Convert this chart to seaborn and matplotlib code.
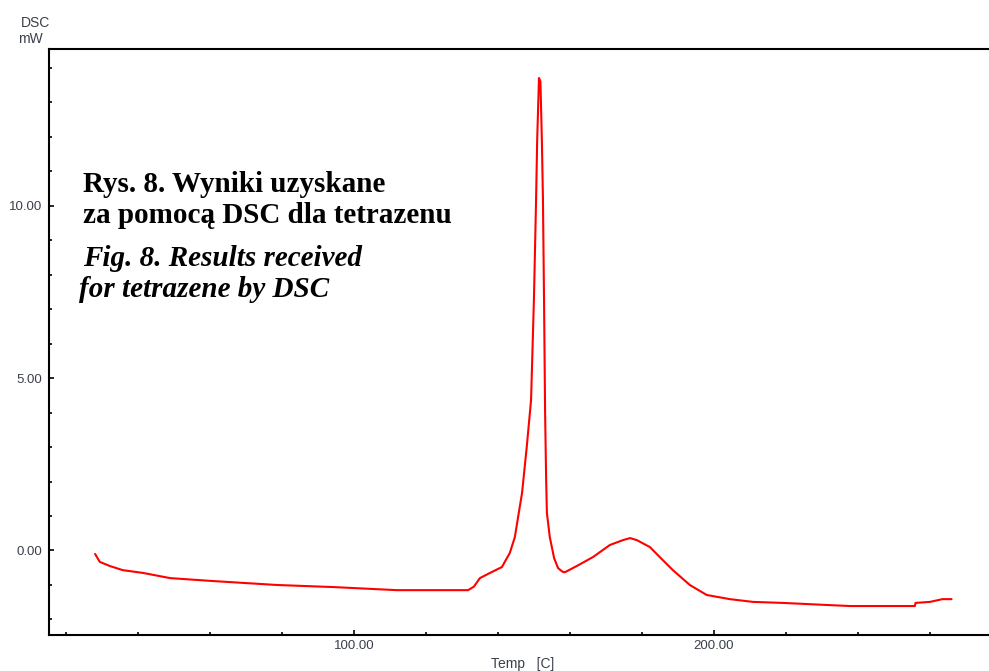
import matplotlib
matplotlib.use("Agg")
import matplotlib.pyplot as plt
from matplotlib.ticker import MultipleLocator, FixedLocator, FixedFormatter
import seaborn as sns
import pandas as pd

# ---- data ----
temp = [28.1, 29.4, 32.2, 35.8, 41.4, 48.9, 60.0, 78.6, 94.2, 112.0, 131.7,
        133.3, 135.0, 137.8, 141.1, 143.3, 144.7, 145.6, 146.7, 148.0, 149.2, 150.0,
        150.6, 150.9, 151.4, 151.8, 152.2, 152.5, 152.8, 153.1, 153.4, 153.6,
        154.4, 155.6, 156.7, 158.0, 158.6, 161.9, 166.4, 171.1, 174.7, 176.7,
        178.6, 182.2, 185.8, 188.6, 193.3, 198.0, 204.4, 210.8, 219.2, 231.4,
        237.8, 255.8, 256.0, 260.0, 263.5, 266.0]
dsc = [-0.10, -0.33, -0.45, -0.57, -0.65, -0.80, -0.88, -1.00, -1.06, -1.15, -1.15,
       -1.05, -0.80, -0.65, -0.48, -0.07, 0.39, 0.97, 1.67, 3.00, 4.36, 7.30,
       10.20, 11.90, 13.70, 13.60, 11.90, 10.20, 7.30, 4.00, 2.00, 1.09,
       0.39, -0.22, -0.51, -0.62, -0.63, -0.45, -0.19, 0.16, 0.30, 0.36,
       0.30, 0.10, -0.28, -0.57, -1.00, -1.29, -1.41, -1.49, -1.52, -1.58,
       -1.61, -1.61, -1.52, -1.49, -1.41, -1.41]

x_major = [100, 200]
x_major_labels = ["100.00", "200.00"]
y_major = [0, 5, 10]
y_major_labels = ["0.00", "5.00", "10.00"]

title_pl = ["Rys. 8. Wyniki uzyskane", "za pomocą DSC dla tetrazenu"]
title_en = ["Fig. 8. Results received", "for tetrazene by DSC"]

df = pd.DataFrame({"Temp": temp, "DSC": dsc})

sns.set_theme(style="white")
plt.rcParams["font.family"] = ["Liberation Sans", "DejaVu Sans"]

W, H = 989, 671
fig = plt.figure(figsize=(W / 100, H / 100), dpi=100)
L, R, T, B = 49, 989, 49, 635
ax = fig.add_axes([L / W, 1 - B / H, (R - L) / W, (B - T) / H])

sns.lineplot(data=df, x="Temp", y="DSC", ax=ax, color="#ff0000",
             linewidth=1.5, sort=False, estimator=None)

ax.set_xlim(15.3, 276.4)
ax.set_ylim(-2.45, 14.54)

for s in ["left", "bottom", "top"]:
    ax.spines[s].set_visible(True)
    ax.spines[s].set_color("black")
    ax.spines[s].set_linewidth(1.5)
ax.spines["right"].set_visible(False)

ax.xaxis.set_major_locator(FixedLocator(x_major))
ax.xaxis.set_major_formatter(FixedFormatter(x_major_labels))
ax.xaxis.set_minor_locator(MultipleLocator(20))
ax.yaxis.set_major_locator(FixedLocator(y_major))
ax.yaxis.set_major_formatter(FixedFormatter(y_major_labels))
ax.yaxis.set_minor_locator(MultipleLocator(1))

tick_color = "#3a3f4a"
ax.tick_params(which="both", direction="in", color="black", width=1.2,
               labelsize=9.5, labelcolor=tick_color)
ax.tick_params(which="major", length=3.6)
ax.tick_params(which="minor", length=2.2)
ax.tick_params(axis="x", which="both", bottom=True, top=False, pad=3.5)
ax.tick_params(axis="y", which="both", left=True, right=False, pad=5)
ax.set_xlabel("")
ax.set_ylabel("")
ax.grid(False)

fig.text(523 / W, 1 - 664 / H, "Temp   [C]", ha="center", va="center",
         fontsize=10, color=tick_color)
fig.text(35 / W, 1 - 23 / H, "DSC", ha="center", va="center",
         fontsize=10, color=tick_color)
fig.text(30 / W, 1 - 39 / H, "mW", ha="center", va="center",
         fontsize=10, color=tick_color)

serif = ["Liberation Serif", "DejaVu Serif"]
fs = 21
fig.text(83 / W, 1 - 192 / H, title_pl[0], fontsize=fs, fontweight="bold",
         family=serif, va="baseline", ha="left", color="black")
fig.text(83 / W, 1 - 223 / H, title_pl[1], fontsize=fs, fontweight="bold",
         family=serif, va="baseline", ha="left", color="black")
fig.text(83 / W, 1 - 266 / H, title_en[0], fontsize=fs, fontweight="bold",
         style="italic", family=serif, va="baseline", ha="left", color="black")
fig.text(79 / W, 1 - 297 / H, title_en[1], fontsize=fs, fontweight="bold",
         style="italic", family=serif, va="baseline", ha="left", color="black")

fig.savefig("out.png", dpi=100)
